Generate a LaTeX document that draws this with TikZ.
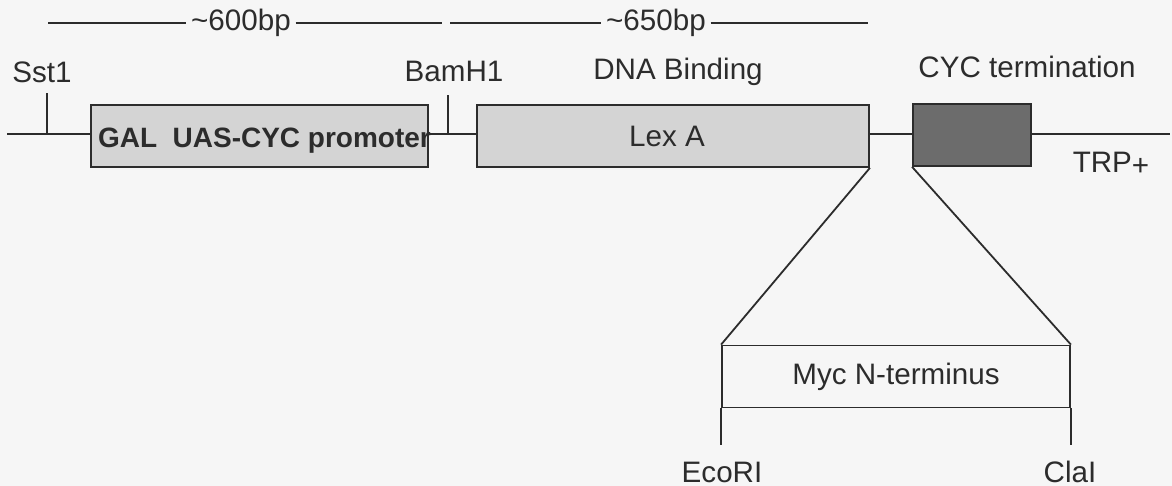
\documentclass[tikz,border=0pt]{standalone}
\usepackage{fontspec}
\setmainfont{Liberation Sans}
\usetikzlibrary{positioning}
\definecolor{ink}{HTML}{2C2C2C}
\definecolor{paper}{HTML}{F6F6F6}
\definecolor{lightfill}{HTML}{D4D4D4}
\definecolor{darkfill}{HTML}{6C6C6C}

\begin{document}
\begin{tikzpicture}[x=0.5pt, y=-0.5pt,
  every node/.style={font=\fontsize{14.8}{17}\selectfont, text=ink},
  dna/.style={draw=ink, line width=0.9pt},
  seg/.style={draw=ink, line width=0.9pt, inner sep=0pt, minimum height=31pt},
  lbl/.style={anchor=base, inner sep=0pt},
  bp/.style={inner sep=2.2pt}]
  \fill[paper] (0,0) rectangle (1172,486);
  \useasboundingbox (0,0) rectangle (1172,486);

  % construct segments
  \node[seg, fill=lightfill, minimum width=168.5pt, font=\fontsize{14}{16}\selectfont\bfseries]
    (prom) at (259.5,136) {\rule{0pt}{14pt}\makebox[161.5pt][l]{GAL\ \ UAS-CYC promoter}};
  \node[seg, fill=lightfill, minimum width=196pt] (lexa) at (673,136) {\hspace*{-6pt}Lex A};
  \node[seg, fill=darkfill, minimum width=59pt] (cyc) at (972,135) {};
  \node[seg, fill=none, minimum width=174pt] (myc) at (896,376.5) {Myc N-terminus};

  % backbone
  \coordinate (left) at (7,134);
  \coordinate (right) at (1170,134);
  \coordinate (sst) at (47,134);
  \coordinate (bam) at (448,134);
  \draw[dna] (left) -- (left -| prom.west);
  \draw[dna] (prom.east |- left) -- (lexa.west |- left);
  \draw[dna] (lexa.east |- left) -- (cyc.west |- left);
  \draw[dna] (cyc.east |- right) -- (right);

  % restriction sites
  \draw[dna] (sst) -- ++(0,-41);
  \draw[dna] (bam) -- ++(0,-39);
  \node[lbl] (sstlbl) at (42,83) {Sst1};
  \node[lbl] (bamlbl) at (454,82) {BamH1};
  \node[lbl] (bindlbl) at (678,80) {DNA Binding};
  \node[lbl] (cyclbl) at (1027,78) {CYC termination};
  \node[lbl] (trplbl) at (1111,173) {TRP\raisebox{-1.5pt}{+}};

  % insert
  \draw[dna] (lexa.south east) -- (myc.north west);
  \draw[dna] (cyc.south west) -- (myc.north east);
  \draw[dna] (myc.south west) -- ++(0,37) coordinate (eco);
  \draw[dna] (myc.south east) -- ++(0,37) coordinate (cla);
  \node[lbl] (ecolbl) at (722,482) {EcoRI};
  \node[lbl] (clalbl) at (1070,482) {ClaI};

  % size scale
  \node[bp] (bp600) at (241,23) {\textasciitilde600bp};
  \node[bp] (bp650) at (656,23) {\textasciitilde650bp};
  \coordinate (s1a) at (48,23);
  \coordinate (s1b) at (442,23);
  \coordinate (s2a) at (450,23);
  \coordinate (s2b) at (868,23);
  \draw[dna] (s1a) -- (bp600.west);
  \draw[dna] (bp600.east) -- (s1b);
  \draw[dna] (s2a) -- (bp650.west);
  \draw[dna] (bp650.east) -- (s2b);
\end{tikzpicture}
\end{document}
